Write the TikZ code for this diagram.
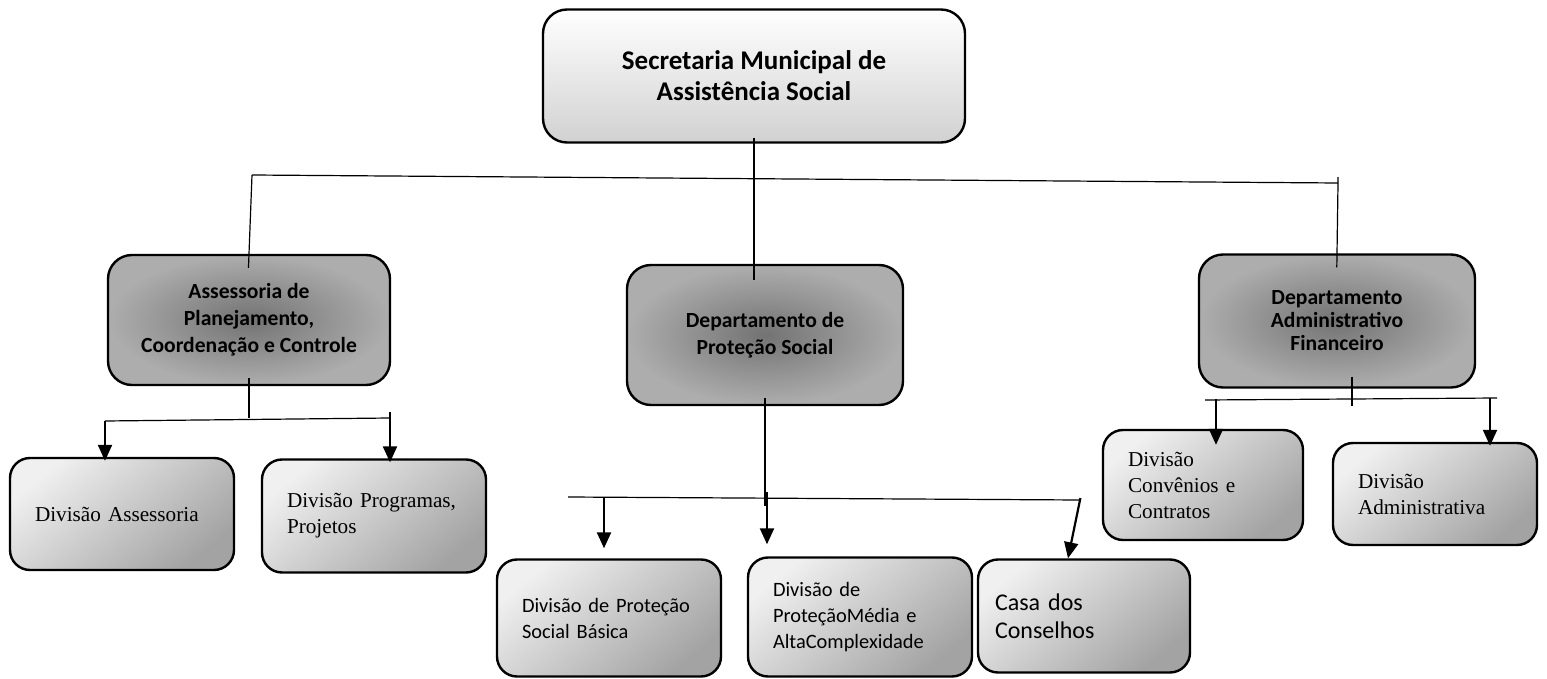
\documentclass[tikz,border=0pt]{standalone}
\usepackage{fontspec}
\setmainfont{Carlito}
\newfontfamily\timesdiv{Liberation Serif}
\usetikzlibrary{arrows.meta}

\tikzset{
  topbox/.style={draw, line width=1.2pt, rounded corners=12pt, top color=white, bottom color=black!18,
    align=center, font=\fontsize{13.5}{15.5}\selectfont\bfseries},
  deptbox/.style={draw, line width=1.2pt, rounded corners=12pt, inner color=black!55, outer color=black!32,
    align=center, font=\fontsize{10.8}{13.5}\selectfont\bfseries},
  divbox/.style={draw, line width=1.2pt, rounded corners=10pt, top color=black!6, bottom color=black!36,
    shading angle=40, align=left, inner xsep=12.5pt, font=\timesdiv\fontsize{10.6}{13}\selectfont},
  sansdiv/.style={font=\fontsize{10.2}{13}\selectfont},
  arr/.style={-{Triangle[length=8pt,width=7pt]}, line width=1.1pt},
  bus/.style={line width=0.6pt}
}

\begin{document}
\begin{tikzpicture}[x=0.5pt,y=-0.5pt]
\useasboundingbox (0,0) rectangle (1547,679);

% secretaria
\node[topbox, minimum width=211pt, minimum height=66.5pt] (sec) at (754,76) {Secretaria Municipal de\\Assistência Social};

% departamentos
\node[deptbox, minimum width=141pt, minimum height=65pt] (apcc) at (249,320) {Assessoria de\\Planejamento,\\Coordenação e Controle};
\node[deptbox, minimum width=138pt, minimum height=70pt] (dps) at (765,335) {Departamento de\\Proteção Social};
\node[deptbox, minimum width=138pt, minimum height=66.5pt, font=\fontsize{10.8}{11.5}\selectfont\bfseries] (daf) at (1337,321) {Departamento\\Administrativo\\Financeiro};

% divisoes
\node[divbox, text width=87pt, minimum height=56pt] (dass) at (122,514) {Divisão Assessoria};
\node[divbox, text width=87pt, minimum height=56.5pt] (dpp) at (374,516) {Divisão Programas,\\Projetos};
\node[divbox, sansdiv, text width=87pt, minimum height=58.5pt] (dpsb) at (609,618) {Divisão de Proteção\\Social Básica};
\node[divbox, sansdiv, text width=87pt, minimum height=59.5pt] (dpmac) at (860,617) {Divisão de\\ProteçãoMédia e\\AltaComplexidade};
\node[divbox, inner xsep=8.5pt, text width=89pt, minimum height=56.5pt, font=\fontsize{12}{14}\selectfont] (casa) at (1084,616) {Casa dos\\Conselhos};
\node[divbox, text width=75pt, minimum height=55pt] (dcc) at (1203,485) {Divisão\\Convênios e\\Contratos};
\node[divbox, text width=77pt, minimum height=51pt] (dadm) at (1435,494) {Divisão\\Administrativa};

% ligacoes
\coordinate (busl) at (252,175);
\coordinate (busr) at (1338,183);
\draw[bus] (busl) -- (busr);
\draw[bus, shorten <=-3pt, shorten >=-8pt] (sec.south) -- (sec.south |- dps.north);
\draw[bus, shorten >=-7pt] (busl) -- (apcc.north);
\draw[bus, shorten <=-3pt, shorten >=-7pt] (busr) -- (daf.north);

\coordinate (al) at (105,421);
\coordinate (ar) at (390,418);
\draw[bus] (al) -- (ar);
\draw[bus, shorten <=-4pt] (apcc.south) -- (apcc.south |- ar);
\draw[arr, shorten >=-2pt] (al) -- (al |- dass.north);
\draw[arr, shorten <=-3pt, shorten >=-2pt] (ar) -- (ar |- dpp.north);

\coordinate (pl) at (568,497);
\coordinate (pr) at (1080,500);
\coordinate (p1) at (604,498);
\coordinate (p2) at (767,498);
\draw[bus] (pl) -- (pr);
\draw[bus, shorten <=-4pt, shorten >=-3pt] (dps.south) -- (dps.south |- pr);
\draw[arr, shorten >=5pt] (p1) -- (p1 |- dpsb.north);
\draw[arr, shorten <=-3pt, shorten >=6pt] (p2) -- (p2 |- dpmac.north);
\draw[arr, shorten <=-1pt] (pr) -- ([xshift=-8pt]casa.north);

\coordinate (fl) at (1205,400);
\coordinate (fr) at (1497,398);
\coordinate (f1) at (1216,399);
\coordinate (f2) at (1490,398);
\draw[bus] (fl) -- (fr);
\draw[bus, shorten <=-6pt, shorten >=-3pt] ([xshift=7.5pt]daf.south) -- ([xshift=7.5pt]daf.south |- fl);
\draw[arr, shorten >=-8pt] (f1) -- (f1 |- dcc.north);
\draw[arr, shorten >=-2pt] (f2) -- (f2 |- dadm.north);
\end{tikzpicture}
\end{document}
